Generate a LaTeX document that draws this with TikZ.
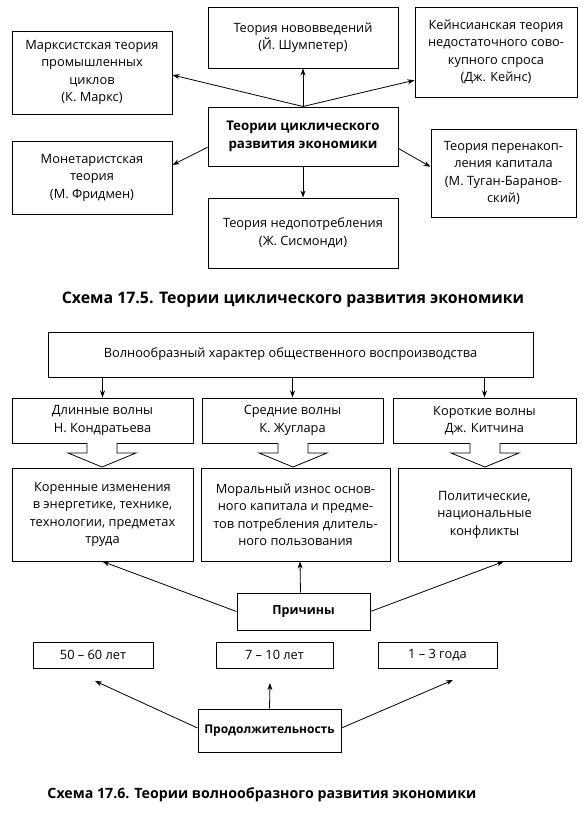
\documentclass[tikz,border=0pt]{standalone}
\usepackage{fontspec}
\setmainfont{Open Sans}
\usetikzlibrary{arrows.meta,calc}
\begin{document}
\begin{tikzpicture}[x=1pt,y=-1pt,
  box/.style={draw,line width=1pt,align=center,inner sep=1pt,font=\fontsize{12.8}{17.5}\selectfont},
  bbox/.style={box,font=\fontsize{12.5}{17.5}\selectfont\bfseries},
  arr/.style={line width=0.8pt,-{Stealth[length=7pt,width=5pt]}},
  blk/.style={draw,line width=0.8pt,fill=white},
  capt/.style={font=\bfseries}]
\useasboundingbox (0,0) rectangle (582,815);
% ---------- Scheme 17.5 ----------
\node[box,minimum width=160pt,minimum height=83pt] (marx) at (92,72.5) {Марксистская теория\\промышленных\\циклов\\(К. Маркс)};
\node[box,minimum width=190pt,minimum height=61pt] (innov) at (303,37.5) {Теория нововведений\\(Й. Шумпетер)};
\node[box,minimum width=162pt,minimum height=90pt] (keynes) at (496,52) {Кейнсианская теория\\недостаточного сово-\\купного спроса\\(Дж. Кейнс)};
\node[bbox,minimum width=190pt,minimum height=59pt,font=\fontsize{13.3}{18}\selectfont\bfseries] (central) at (303,136.5) {Теории циклического\\развития экономики};
\node[box,minimum width=160pt,minimum height=73pt] (monet) at (92,177.5) {Монетаристская\\теория\\(М. Фридмен)};
\node[box,minimum width=190pt,minimum height=70pt] (nedop) at (303,233) {Теория недопотребления\\(Ж. Сисмонди)};
\node[box,minimum width=145pt,minimum height=88pt] (tugan) at (503.5,173) {Теория перенакоп-\\ления капитала\\(М. Туган-Баранов-\\ский)};
\node[capt,font=\fontsize{15.9}{18}\selectfont\bfseries] (cap1) at (293,300) {Схема 17.5. Теории циклического развития экономики};
\draw[arr] (central.north) -- ($(marx.south east)!0.47!(marx.north east)$);
\draw[arr] (central.north) -- (innov.south);
\draw[arr] (central.north) -- ($(keynes.south west)!0.19!(keynes.north west)$);
\draw[arr] ($(central.south west)!0.32!(central.north west)$) -- ($(monet.south east)!0.67!(monet.north east)$);
\draw[arr] ($(central.south east)!0.3!(central.north east)$) -- ($(tugan.south west)!0.57!(tugan.north west)$);
\draw[arr] (central.south) -- (nedop.north);
% ---------- Scheme 17.6 ----------
\node[box,minimum width=485pt,minimum height=45pt] (wave) at (290.5,354.5) {Волнообразный характер общественного воспроизводства};
\node[box,minimum width=181pt,minimum height=45pt] (long) at (102.5,420.5) {Длинные волны\\Н. Кондратьева};
\node[box,minimum width=181pt,minimum height=45pt] (mid) at (292.5,420.5) {Средние волны\\К. Жуглара};
\node[box,minimum width=183pt,minimum height=45pt] (short) at (484.5,420.5) {Короткие волны\\Дж. Китчина};
\draw[arr] (wave.south -| long.north) -- (long.north);
\draw[arr] (wave.south -| mid.north) -- (mid.north);
\draw[arr] (wave.south -| short.north) -- (short.north);
\node[box,minimum width=181pt,minimum height=93pt] (c1) at (102.5,514.5) {Коренные изменения\\в энергетике, технике,\\технологии, предметах\\труда};
\node[box,minimum width=189pt,minimum height=93pt] (c2) at (295.5,514.5) {Моральный износ основ-\\ного капитала и предме-\\тов потребления длитель-\\ного пользования};
\node[box,minimum width=173pt,minimum height=93pt] (c3) at (484.5,514.5) {Политические,\\национальные\\конфликты};
% block arrows
\foreach \n/\cx in {long/102, mid/293, short/485}{
  \draw[blk] (\cx-15,443) -- (\cx-15,453) -- (\cx-34,453) -- (\cx,467) -- (\cx+34,453) -- (\cx+15,453) -- (\cx+15,443);
}
\node[bbox,minimum width=133pt,minimum height=37pt] (prich) at (303.5,611.5) {Причины};
\draw[arr] (prich.west) -- (c1.south);
\draw[arr] ($(prich.north)+(-3,0)$) -- ($(c2.south)+(4.5,0)$);
\draw[arr] (prich.east) -- ($(c3.south west)!0.61!(c3.south east)$);
\node[box,minimum width=120pt,minimum height=26pt] (d1) at (93,655) {50 – 60 лет};
\node[box,minimum width=117pt,minimum height=26pt] (d2) at (274.5,655) {7 – 10 лет};
\node[box,minimum width=119pt,minimum height=26pt] (d3) at (437.5,655) {1 – 3 года};
\node[bbox,minimum width=143pt,minimum height=43pt,font=\fontsize{12}{16}\selectfont\bfseries] (prod) at (269.5,730.5) {Продолжительность};
\coordinate (t1) at (95,681);
\coordinate (t2) at (270,683);
\coordinate (t3) at (453,680);
\draw[arr] ($(prod.west)+(0,-2.5)$) -- (t1);
\draw[arr] (prod.north) -- (t2);
\draw[arr] ($(prod.east)+(0,-2.5)$) -- (t3);
\node[capt,font=\fontsize{14.2}{17}\selectfont\bfseries] (cap2) at (262,795) {Схема 17.6. Теории волнообразного развития экономики};
\end{tikzpicture}
\end{document}
